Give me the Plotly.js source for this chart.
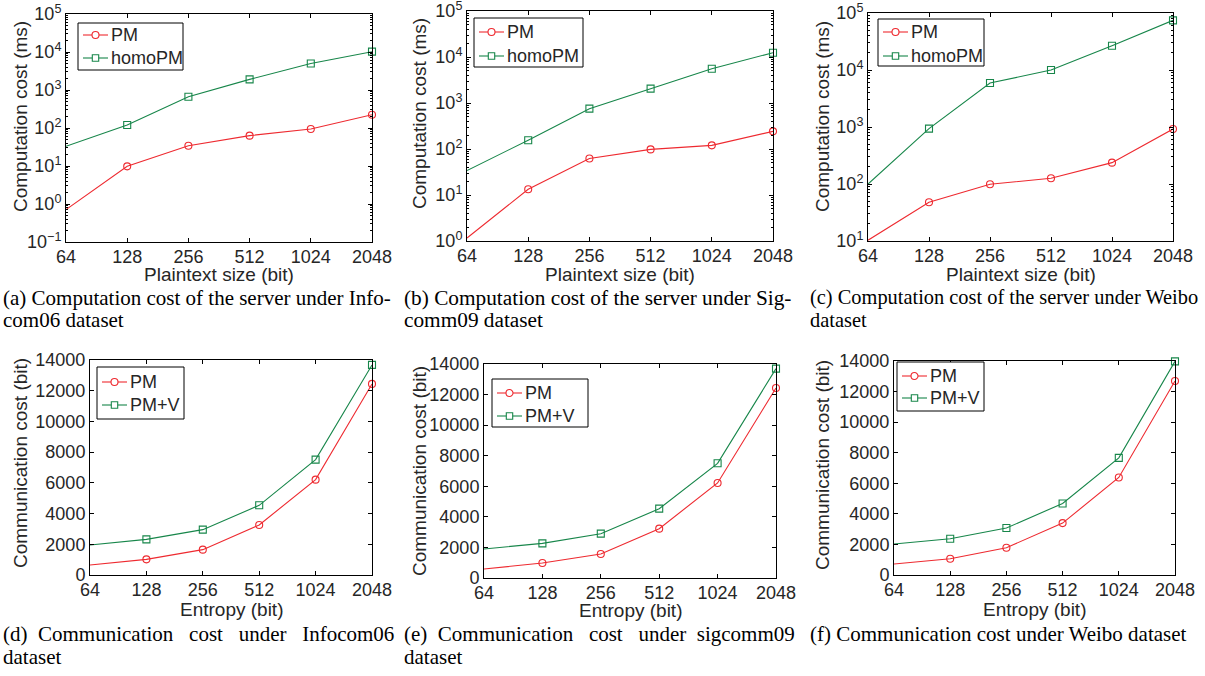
<!DOCTYPE html>
<html>
<head>
<meta charset="utf-8">
<script src="https://cdn.plot.ly/plotly-3.0.1.min.js"></script>
<style>html,body{margin:0;padding:0;background:#fff;}#chart{width:1205px;height:676px;}</style>
</head>
<body>
<div id="chart"></div>
<script>
// ---------- data ----------
const sizes = [64, 128, 256, 512, 1024, 2048];
const sizeLabels = ['64', '128', '256', '512', '1024', '2048'];

// (a) Infocom06 computation cost (ms)
const compA_PM    = [0.71, 9.8, 34, 63, 94, 224];
const compA_homo  = [33, 120, 665, 1905, 5000, 10200];
// (b) Sigcomm09 computation cost (ms)
const compB_PM    = [1.16, 13.3, 62, 98, 120, 242];
const compB_homo  = [34, 155, 753, 2050, 5570, 12400];
// (c) Weibo computation cost (ms)
const compC_PM    = [10.3, 47.7, 99, 126, 237, 922];
const compC_homo  = [100, 935, 5900, 10000, 26700, 74300];
// (d) Infocom06 communication cost (bit)
const commD_PM    = [651, 1020, 1650, 3257, 6210, 12443];
const commD_PMV   = [1954, 2323, 2953, 4538, 7513, 13680];
// (e) sigcomm09 communication cost (bit)
const commE_PM    = [589, 981, 1570, 3228, 6216, 12432];
const commE_PMV   = [1897, 2268, 2900, 4536, 7503, 13697];
// (f) Weibo communication cost (bit)
const commF_PM    = [718, 1067, 1785, 3396, 6379, 12693];
const commF_PMV   = [2025, 2373, 3070, 4681, 7664, 13977];

const logTickVals = [0.1, 1, 10, 100, 1000, 10000, 100000];
const logTickText = ['10<sup>−1</sup>', '10<sup>0</sup>', '10<sup>1</sup>', '10<sup>2</sup>', '10<sup>3</sup>', '10<sup>4</sup>', '10<sup>5</sup>'];
const linTickVals = [0, 2000, 4000, 6000, 8000, 10000, 12000, 14000];
const linTickText = ['0', '2000', '4000', '6000', '8000', '10000', '12000', '14000'];

const NB = '\u00a0';
const captions = [
  ['(a) Computation cost of the server under Info-', 'com06 dataset'],
  ['(b) Computation cost of the server under Sig-', 'comm09 dataset'],
  ['(c) Computation cost of the server under Weibo', 'dataset'],
  ['(d)' + NB + ' Communication' + NB + NB + ' cost' + NB + NB + ' under' + NB + NB + ' Infocom06', 'dataset'],
  ['(e)' + NB + ' Communication' + NB + NB + ' cost' + NB + NB + ' under' + NB + ' sigcomm09', 'dataset'],
  ['(f) Communication cost under Weibo dataset', '']
];

// ---------- styling ----------
const W = 1205, H = 676;
const RED = '#ee2a30', GREEN = '#17864a';
const FONT = 'Liberation Sans, Arial, Helvetica, sans-serif';
const SERIF = 'Liberation Serif, Times New Roman, serif';
const TXT = '#262626';
const px = x => x / W, py = y => 1 - y / H;

// plot rectangles in pixels [left, right, top, bottom]
const boxes = [
  [66, 372, 14, 242],
  [467, 773, 11, 241],
  [868, 1173, 13, 241],
  [90, 372, 360, 575],
  [484, 776, 364, 578],
  [894, 1175, 361, 575]
];
// legend boxes [left, top, width, height] and row offsets
const legendBoxes = [[78, 23, 105, 47], [474, 18, 109, 49], [878, 19, 106, 47], [97, 367, 87, 52], [492, 379, 96, 48], [897, 362, 87, 49]];
const legendRows = [[12, 35], [14, 38], [13, 37], [15, 38], [14, 37], [14, 36]];
const xTitleY = [274, 274, 274, 609, 610, 609];
const yTitlePos = [[20, 117], [420, 114], [822, 117], [20, 463], [420, 471], [822, 465]];
const captionX = [1, 402, 808, 1, 402, 808];
const captionY = [[298, 320], [298, 320], [298, 320], [634, 657], [634, 657], [634, 657]];
const captionSize = [21, 21.3, 20.4, 21, 21, 21];

const panels = [
  {pm: compA_PM, other: compA_homo, name2: 'homoPM', log: true, range: [-1, 5], ytitle: 'Computation cost (ms)', xtitle: 'Plaintext size (bit)'},
  {pm: compB_PM, other: compB_homo, name2: 'homoPM', log: true, range: [0, 5], ytitle: 'Computation cost (ms)', xtitle: 'Plaintext size (bit)'},
  {pm: compC_PM, other: compC_homo, name2: 'homoPM', log: true, range: [1, 5], ytitle: 'Computation cost (ms)', xtitle: 'Plaintext size (bit)'},
  {pm: commD_PM, other: commD_PMV, name2: 'PM+V', log: false, range: [0, 14000], ytitle: 'Communication cost (bit)', xtitle: 'Entropy (bit)'},
  {pm: commE_PM, other: commE_PMV, name2: 'PM+V', log: false, range: [0, 14000], ytitle: 'Communication cost (bit)', xtitle: 'Entropy (bit)'},
  {pm: commF_PM, other: commF_PMV, name2: 'PM+V', log: false, range: [0, 14000], ytitle: 'Communication cost (bit)', xtitle: 'Entropy (bit)'}
];

function minorLogTicks(lo, hi) {
  const v = [];
  for (let e = lo; e < hi; e++) for (let m = 2; m <= 9; m++) v.push(m * Math.pow(10, e));
  return v;
}

const data = [];
const layout = {
  width: W, height: H,
  margin: {l: 0, r: 0, t: 0, b: 0},
  paper_bgcolor: '#fff', plot_bgcolor: '#fff',
  font: {family: FONT, size: 18, color: TXT},
  showlegend: false,
  annotations: [],
  shapes: []
};

panels.forEach((p, i) => {
  const k = i + 1;
  const sfx = k === 1 ? '' : String(k);
  const xa = 'xaxis' + sfx, ya = 'yaxis' + sfx;
  const xr = 'x' + sfx, yr = 'y' + sfx;
  const b = boxes[i];
  const series = [
    {y: p.pm, name: 'PM', color: RED, symbol: 'circle-open'},
    {y: p.other, name: p.name2, color: GREEN, symbol: 'square-open'}
  ];
  series.forEach(s => data.push({
    x: sizes, y: s.y, name: s.name, type: 'scatter', mode: 'lines+markers',
    xaxis: xr, yaxis: yr, cliponaxis: false, showlegend: false,
    line: {color: s.color, width: 1.1},
    marker: {symbol: s.symbol, size: 7, color: s.color, line: {width: 1.1}}
  }));
  const common = {
    ticks: 'inside', ticklen: 4, tickwidth: 1, tickcolor: '#000',
    showline: true, linecolor: '#000', linewidth: 1, mirror: 'ticks',
    showgrid: false, zeroline: false, fixedrange: true,
    ticklabeloverflow: 'allow',
    tickfont: {size: 18, color: TXT, family: FONT}
  };
  layout[xa] = Object.assign({
    domain: [b[0] / W, b[1] / W], anchor: yr, type: 'log',
    range: [Math.log10(64), Math.log10(2048)],
    tickvals: sizes, ticktext: sizeLabels, ticklabelstandoff: -2
  }, common);
  const yax = Object.assign({domain: [1 - b[3] / H, 1 - b[2] / H], anchor: xr}, common);
  if (p.log) {
    Object.assign(yax, {
      type: 'log', range: p.range,
      tickvals: logTickVals, ticktext: logTickText,
      minor: {ticks: 'inside', ticklen: 2, tickcolor: '#000', tickvals: minorLogTicks(p.range[0], p.range[1]), showgrid: false}
    });
  } else {
    Object.assign(yax, {type: 'linear', range: p.range, tickvals: linTickVals, ticktext: linTickText});
  }
  layout[ya] = yax;

  // legend (boxed, MATLAB style)
  const [L, T, LW, LH] = legendBoxes[i];
  layout.shapes.push({type: 'rect', xref: 'paper', yref: 'paper', layer: 'above',
    x0: px(L), x1: px(L + LW), y0: py(T), y1: py(T + LH),
    line: {color: '#000', width: 1}, fillcolor: '#fff'});
  series.forEach((s, j) => {
    const yy = T + legendRows[i][j];
    layout.shapes.push({type: 'line', xref: 'paper', yref: 'paper', layer: 'above',
      x0: px(L + 5), x1: px(L + 30), y0: py(yy), y1: py(yy), line: {color: s.color, width: 1.1}});
    const m = L + 17.5, r = j === 0 ? 3.5 : 3.2;
    layout.shapes.push({type: j === 0 ? 'circle' : 'rect', xref: 'paper', yref: 'paper', layer: 'above',
      x0: px(m - r), x1: px(m + r), y0: py(yy - r), y1: py(yy + r),
      line: {color: s.color, width: 1.1}, fillcolor: '#fff'});
    layout.annotations.push({text: s.name, xref: 'paper', yref: 'paper', x: px(L + 31), y: py(yy),
      xanchor: 'left', yanchor: 'middle', showarrow: false,
      font: {size: 18, color: TXT, family: FONT}});
  });

  // axis titles
  layout.annotations.push({
    text: p.xtitle, xref: xr + ' domain', yref: 'paper', x: 0.5, y: py(xTitleY[i]),
    xanchor: 'center', yanchor: 'middle', showarrow: false,
    font: {size: 19, color: TXT, family: FONT}
  });
  layout.annotations.push({
    text: p.ytitle, xref: 'paper', yref: 'paper', x: px(yTitlePos[i][0]), y: py(yTitlePos[i][1]),
    xanchor: 'center', yanchor: 'middle', showarrow: false, textangle: -90,
    font: {size: 19, color: TXT, family: FONT}
  });
  // sub-captions
  captions[i].forEach((t, j) => {
    if (!t) return;
    layout.annotations.push({
      text: t, xref: 'paper', yref: 'paper',
      x: px(captionX[i]), y: py(captionY[i][j]),
      xanchor: 'left', yanchor: 'middle', showarrow: false, align: 'left',
      font: {family: SERIF, size: captionSize[i], color: '#000'}
    });
  });
});

Plotly.newPlot('chart', data, layout, {staticPlot: true, displayModeBar: false});
</script>
</body>
</html>
